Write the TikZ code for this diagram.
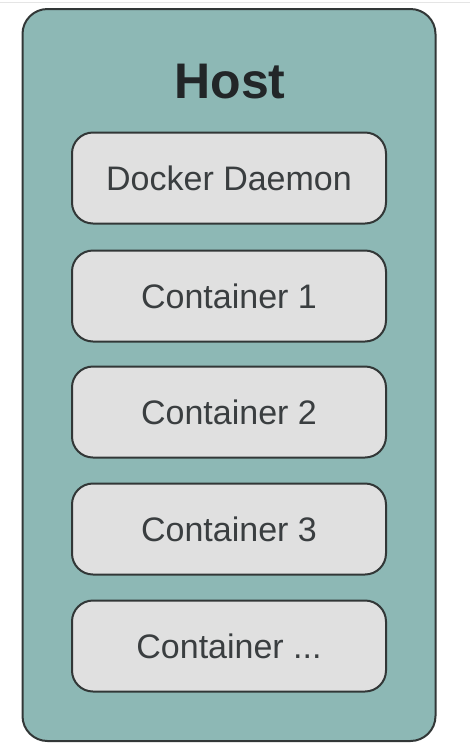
\documentclass[tikz,border=0pt]{standalone}
\usepackage{fontspec}
\setmainfont{Liberation Sans}
\definecolor{hostfill}{RGB}{141,184,181}
\definecolor{boxfill}{RGB}{224,224,224}
\definecolor{edge}{RGB}{50,55,55}
\definecolor{txt}{RGB}{58,62,64}
\definecolor{hosttxt}{RGB}{34,38,40}
\begin{document}
\begin{tikzpicture}[x=1pt,y=-1pt,
  hostbox/.style={draw=edge,line width=2pt,fill=hostfill,rounded corners=25pt},
  contbox/.style={draw=edge,line width=2pt,fill=boxfill,rounded corners=21pt,
    minimum width=314pt,minimum height=91pt,inner sep=0pt,text=txt,
    font=\fontsize{34}{40}\selectfont},
  hostlabel/.style={text=hosttxt,font=\fontsize{50}{56}\selectfont\bfseries,inner sep=0pt}]
\useasboundingbox (0,0) rectangle (470,756);
\fill[white] (0,0) rectangle (470,756);
\draw[gray!20,line width=1pt] (0,2.5) -- (470,2.5);
\node[hostbox,minimum width=413pt,minimum height=732pt,inner sep=0pt] (host) at (229,375) {};
\node[hostlabel,anchor=base] (hostt) at (230,98) {Host};
\node[contbox] (daemon) at (229,178) {Docker Daemon};
\node[contbox] (c1) at (229,296) {Container 1};
\node[contbox] (c2) at (229,412) {Container 2};
\node[contbox] (c3) at (229,529) {Container 3};
\node[contbox] (cn) at (229,646) {Container ...};
\end{tikzpicture}
\end{document}
